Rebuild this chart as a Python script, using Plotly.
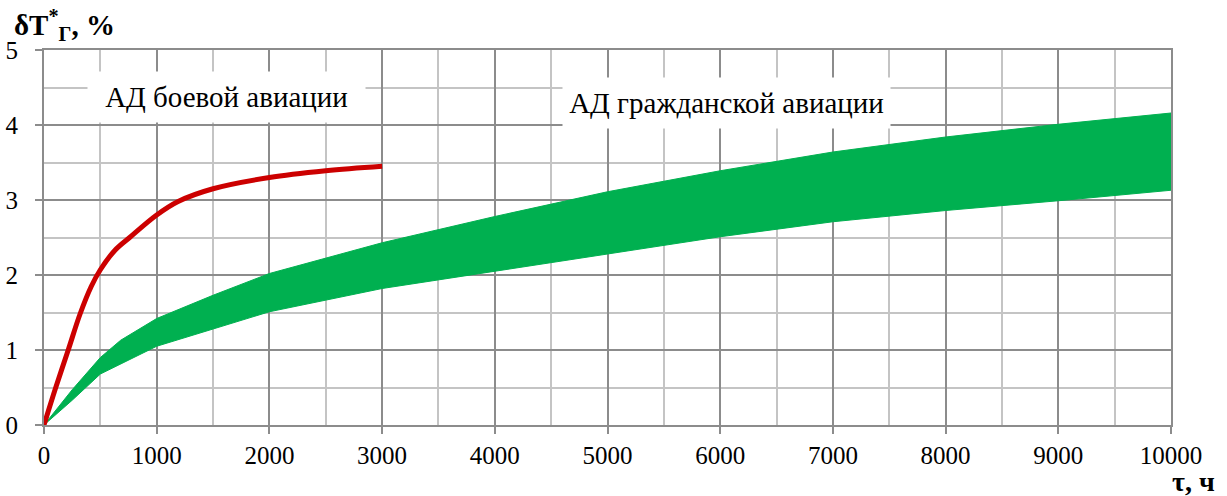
import plotly.graph_objects as go

# Military engine curve: temperature rise vs operating time
mil_t = [0, 100, 215, 320, 420, 500, 630, 760, 1000, 1190, 1500, 2000, 2500, 3000]
mil_dT = [0, 0.48, 1.0, 1.48, 1.85, 2.07, 2.33, 2.50, 2.80, 2.98, 3.15, 3.30, 3.39, 3.45]

# Civil engine band: lower and upper bounds
civ_t = [0, 250, 500, 680, 1000, 1500, 2000, 3000, 4000, 5000, 6000, 7000, 8000, 9000, 10000]
civ_lo = [0, 0.33, 0.68, 0.81, 1.05, 1.28, 1.51, 1.82, 2.05, 2.29, 2.51, 2.71, 2.86, 2.99, 3.13]
civ_hi = [0, 0.47, 0.90, 1.13, 1.42, 1.73, 2.02, 2.43, 2.78, 3.11, 3.39, 3.64, 3.84, 4.01, 4.16]

x_ticks = list(range(0, 10001, 1000))
x_labels = [str(v) for v in x_ticks]
y_ticks = [0, 1, 2, 3, 4, 5]
y_labels = [str(v) for v in y_ticks]

GREEN = "#00B050"
RED = "#CC0000"
MAJOR = "#8C8C8C"
MINOR = "#C4C4C4"
FONT = "Liberation Serif"

fig = go.Figure()
fig.add_trace(go.Scatter(x=civ_t, y=civ_lo, mode="lines",
                         line=dict(color=GREEN, width=1), hoverinfo="skip"))
fig.add_trace(go.Scatter(x=civ_t, y=civ_hi, mode="lines", fill="tonexty",
                         fillcolor=GREEN, line=dict(color=GREEN, width=1),
                         hoverinfo="skip"))
fig.add_trace(go.Scatter(x=mil_t, y=mil_dT, mode="lines",
                         line=dict(color=RED, width=5, shape="spline", smoothing=1.0),
                         hoverinfo="skip"))

axis_common = dict(
    showgrid=True, gridcolor=MAJOR, gridwidth=2,
    zeroline=False, showline=True, mirror=True,
    linecolor=MAJOR, linewidth=2, automargin=False,
    ticks="outside", ticklen=7, tickwidth=2, tickcolor=MAJOR,
    tickfont=dict(family=FONT, size=25, color="black"),
)

fig.update_xaxes(range=[0, 10000], tickvals=x_ticks, ticktext=x_labels,
                 minor=dict(dtick=500, tick0=0, showgrid=True,
                            gridcolor=MINOR, gridwidth=2, ticklen=0),
                 **axis_common)
fig.update_yaxes(range=[0, 5], tickvals=y_ticks, ticktext=y_labels,
                 ticklabelstandoff=12,
                 minor=dict(dtick=0.5, tick0=0, showgrid=True,
                            gridcolor=MINOR, gridwidth=2, ticklen=0),
                 **axis_common)

# Labels for the two curves, on white boxes over the grid
fig.add_annotation(x=1619, y=4.373, xref="x", yref="y",
                   text="АД боевой авиации", showarrow=False,
                   bgcolor="white", width=277, height=50, borderpad=0,
                   font=dict(family=FONT, size=29, color="black"))
fig.add_annotation(x=6056, y=4.293, xref="x", yref="y",
                   text="АД гражданской авиации", showarrow=False,
                   bgcolor="white", width=327, height=50, borderpad=0,
                   font=dict(family=FONT, size=29, color="black"))

# Axis titles
fig.add_annotation(x=-0.0284, y=1.067, xref="paper", yref="paper",
                   xanchor="left", yanchor="middle", showarrow=False,
                   text="<b>δT<sup>*</sup><sub>Г</sub>, %</b>",
                   font=dict(family=FONT, size=29, color="black"))
fig.add_annotation(x=1.0204, y=-0.15, xref="paper", yref="paper",
                   xanchor="center", yanchor="middle", showarrow=False,
                   text="<b>τ, ч</b>",
                   font=dict(family=FONT, size=28, color="black"))

fig.update_layout(
    width=1227, height=496,
    margin=dict(l=44, r=56, t=50, b=71),
    paper_bgcolor="white", plot_bgcolor="white",
    showlegend=False,
)

fig.write_html("out.html")
